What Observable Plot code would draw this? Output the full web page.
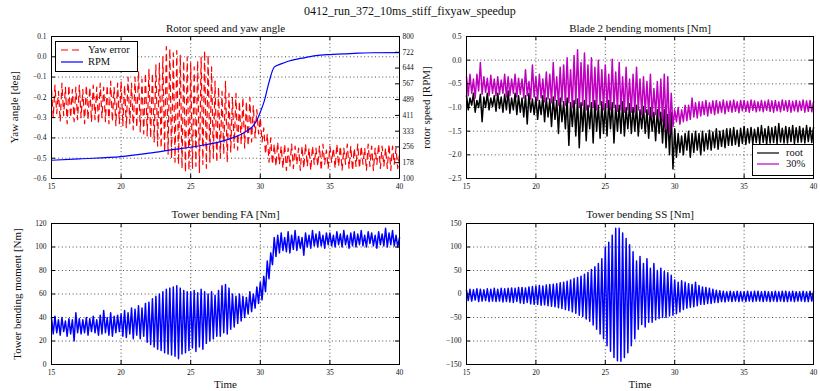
<!DOCTYPE html>
<html><head><meta charset="utf-8">
<script src="https://cdn.jsdelivr.net/npm/d3@7"></script>
<script src="https://cdn.jsdelivr.net/npm/@observablehq/plot@0.6"></script>
<style>
body{margin:0;background:#fff;}
#root{position:relative;width:820px;height:391px;font-family:"Liberation Serif",serif;color:#111;overflow:hidden;}
#root svg{position:absolute;}
.leg{position:absolute;background:#fff;border:1px solid #000;font-size:10.5px;}
.leg div{position:absolute;white-space:nowrap;line-height:10px;}
.leg svg{position:absolute;}
#sup{position:absolute;left:0;top:4px;width:820px;text-align:center;font-size:12px;}
</style></head><body><div id="root"><div id="sup">0412_run_372_10ms_stiff_fixyaw_speedup</div></div>
<script>
const timeStart = 15, timeEnd = 40;
const xTicks = [15, 20, 25, 30, 35, 40];
const yawTicks = [-0.6, -0.5, -0.4, -0.3, -0.2, -0.1, 0, 0.1];
const rpmTicks = [100, 177.8, 255.6, 333.3, 411.1, 488.9, 566.7, 644.4, 722.2, 800];
const bladeTicks = [-2.5, -2, -1.5, -1, -0.5, 0, 0.5];
const faTicks = [0, 20, 40, 60, 80, 100, 120];
const ssTicks = [-150, -100, -50, 0, 50, 100, 150];

// Yaw error [deg], sampled every 0.125 s from 15 to 40
const yawError = [
-0.16,-0.30,-0.14,-0.28,-0.17,-0.32,-0.13,-0.29,
-0.15,-0.33,-0.14,-0.30,-0.16,-0.32,-0.15,-0.31,
-0.14,-0.30,-0.16,-0.33,-0.14,-0.31,-0.15,-0.32,
-0.14,-0.31,-0.15,-0.33,-0.13,-0.30,-0.15,-0.32,
-0.14,-0.33,-0.12,-0.32,-0.15,-0.34,-0.13,-0.33,
-0.12,-0.34,-0.14,-0.35,-0.10,-0.33,-0.13,-0.36,
-0.10,-0.35,-0.07,-0.37,-0.11,-0.38,-0.08,-0.39,
-0.06,-0.40,-0.08,-0.42,-0.04,-0.44,-0.03,-0.45,
0.00,-0.47,0.05,-0.48,0.04,-0.50,0.02,-0.52,
0.03,-0.53,0.01,-0.55,-0.02,-0.57,0.00,-0.56,
-0.03,-0.55,-0.05,-0.54,-0.02,-0.57,0.00,-0.53,
0.03,-0.55,0.01,-0.52,-0.05,-0.50,-0.12,-0.52,
-0.15,-0.50,-0.17,-0.48,-0.12,-0.52,-0.18,-0.47,
-0.20,-0.45,-0.18,-0.46,-0.22,-0.43,-0.20,-0.45,
-0.22,-0.44,-0.20,-0.42,-0.24,-0.40,-0.26,-0.38,
-0.30,-0.42,-0.35,-0.48,-0.38,-0.52,-0.40,-0.53,
-0.43,-0.54,-0.42,-0.53,-0.44,-0.55,-0.43,-0.56,
-0.45,-0.54,-0.43,-0.55,-0.44,-0.53,-0.45,-0.56,
-0.44,-0.55,-0.43,-0.54,-0.45,-0.56,-0.44,-0.53,
-0.45,-0.54,-0.44,-0.56,-0.43,-0.53,-0.46,-0.55,
-0.44,-0.52,-0.45,-0.55,-0.43,-0.54,-0.44,-0.56,
-0.45,-0.53,-0.43,-0.55,-0.44,-0.56,-0.45,-0.54,
-0.43,-0.55,-0.44,-0.53,-0.45,-0.56,-0.43,-0.54,
-0.44,-0.56,-0.45,-0.53,-0.43,-0.55,-0.44,-0.54,
-0.45,-0.55,-0.43,-0.56,-0.44,-0.53,-0.45,-0.55,
-0.48];

// Rotor speed [RPM]
const rpmTime = [15, 17, 20, 22, 24, 25, 26, 27, 28, 29, 29.5, 29.8, 30, 30.3, 30.6, 31, 31.5, 32, 33, 34, 35, 36, 37, 38, 40];
const rpmValue = [190, 197, 208, 225, 245, 254, 266, 279, 300, 333, 361, 395, 427, 485, 568, 649, 665, 678, 693, 706, 711, 714, 718, 720, 721];

// Blade 2 bending moment at root [Nm]
const bladeRoot = [
-0.75,-1.05,-0.80,-0.95,-0.70,-1.10,-0.85,-1.00,
-0.72,-1.30,-0.78,-1.00,-0.70,-1.05,-0.80,-0.98,
-0.75,-1.08,-0.70,-1.02,-0.78,-1.10,-0.72,-1.05,
-0.65,-1.12,-0.80,-1.05,-0.70,-1.15,-0.75,-1.10,
-0.80,-1.20,-0.75,-1.35,-0.70,-1.10,-0.82,-1.15,
-0.78,-1.25,-0.85,-1.15,-0.75,-1.30,-0.80,-1.20,
-0.82,-1.40,-0.78,-1.25,-0.85,-1.55,-0.80,-1.30,
-0.88,-1.45,-0.80,-1.80,-0.90,-1.40,-0.85,-1.60,
-0.82,-1.85,-0.90,-1.50,-0.85,-1.70,-0.95,-1.45,
-0.90,-1.75,-0.85,-1.50,-0.95,-1.65,-0.88,-1.55,
-0.92,-1.60,-0.85,-1.45,-0.90,-1.75,-0.95,-1.50,
-0.95,-1.55,-0.88,-1.60,-1.00,-1.45,-0.92,-1.55,
-1.00,-1.50,-0.95,-1.60,-1.05,-1.45,-0.98,-1.55,
-1.05,-1.65,-1.00,-1.50,-1.10,-1.70,-1.05,-1.55,
-1.10,-1.75,-1.05,-1.85,-1.15,-2.00,-1.10,-2.30,
-1.45,-2.05,-1.55,-1.95,-1.60,-2.00,-1.55,-1.90,
-1.50,-2.05,-1.55,-1.95,-1.50,-1.90,-1.55,-2.00,
-1.50,-1.92,-1.55,-1.88,-1.48,-1.90,-1.52,-1.85,
-1.45,-1.88,-1.50,-1.82,-1.48,-1.85,-1.45,-1.80,
-1.45,-1.80,-1.42,-1.78,-1.48,-1.82,-1.44,-1.76,
-1.40,-1.78,-1.45,-1.75,-1.42,-1.77,-1.46,-1.74,
-1.42,-1.76,-1.38,-1.74,-1.45,-1.77,-1.40,-1.75,
-1.43,-1.74,-1.40,-1.76,-1.34,-1.73,-1.44,-1.75,
-1.40,-1.75,-1.42,-1.72,-1.38,-1.76,-1.43,-1.74,
-1.40,-1.73,-1.44,-1.75,-1.38,-1.72,-1.42,-1.74,
-1.42];

// Blade 2 bending moment at 30% span [Nm]
const blade30 = [
-0.35,-0.75,-0.30,-0.70,-0.40,-0.80,-0.30,-0.65,
-0.05,-0.72,-0.35,-0.68,-0.38,-0.75,-0.32,-0.70,
-0.40,-0.75,-0.35,-0.72,-0.42,-0.70,-0.30,-0.78,
-0.35,-0.75,-0.40,-0.70,-0.30,-0.78,-0.38,-0.72,
-0.40,-0.80,-0.20,-0.75,-0.45,-0.82,-0.10,-0.78,
-0.35,-0.85,-0.30,-0.80,-0.40,-0.88,-0.25,-0.82,
-0.30,-0.90,-0.05,-0.85,-0.35,-0.95,-0.15,-0.88,
-0.10,-0.95,0.05,-0.90,-0.20,-1.00,0.10,-0.92,
0.22,-1.00,-0.05,-0.95,0.15,-1.05,-0.10,-0.98,
0.05,-1.00,-0.15,-1.05,0.00,-0.95,-0.20,-1.05,
-0.10,-1.00,-0.30,-1.05,0.02,-1.00,-0.25,-1.08,
-0.05,-1.05,-0.35,-1.10,-0.15,-1.05,-0.40,-1.10,
-0.30,-1.10,-0.15,-1.05,-0.40,-1.15,-0.35,-1.10,
-0.45,-1.15,-0.30,-1.20,-0.60,-1.15,-0.45,-1.20,
-0.40,-1.30,-0.30,-1.45,-0.35,-1.55,-0.70,-1.40,
-1.05,-1.30,-1.00,-1.35,-1.05,-1.30,-0.95,-1.28,
-0.95,-1.25,-0.80,-1.20,-0.90,-1.22,-0.88,-1.18,
-0.88,-1.15,-0.85,-1.18,-0.90,-1.12,-0.86,-1.15,
-0.85,-1.12,-0.88,-1.10,-0.84,-1.13,-0.87,-1.08,
-0.86,-1.10,-0.84,-1.08,-0.88,-1.11,-0.85,-1.07,
-0.85,-1.08,-0.87,-1.10,-0.84,-1.06,-0.86,-1.09,
-0.88,-1.07,-0.85,-1.09,-0.87,-1.06,-0.84,-1.08,
-0.86,-1.10,-0.85,-1.07,-0.88,-1.09,-0.84,-1.06,
-0.86,-1.08,-0.85,-1.10,-0.87,-1.07,-0.85,-1.09,
-0.87,-1.06,-0.84,-1.10,-0.86,-1.08,-0.85,-1.09,
-0.88];

// Tower bending fore-aft [Nm]
const towerFA = [
40,26,41,27,38,25,40,28,
37,24,39,26,38,20,44,27,
39,26,38,27,40,25,39,28,
41,27,38,25,42,26,46,27,
40,25,44,24,41,27,42,28,
43,24,46,23,44,26,48,22,
47,25,50,22,48,24,52,19,
53,17,56,15,58,13,60,12,
62,10,64,9,65,8,66,7,
67,5,65,9,63,10,62,12,
62,14,63,11,61,15,64,13,
62,18,60,20,62,22,59,24,
63,24,67,27,68,26,65,30,
60,32,58,35,60,37,58,40,
57,43,62,45,60,48,66,52,
70,55,75,62,88,73,95,85,
108,92,110,95,112,97,108,96,
113,95,110,98,114,97,109,99,
108,93,112,100,110,99,114,101,
111,100,113,101,110,99,112,102,
112,101,110,100,113,102,111,100,
114,102,110,99,112,101,113,100,
111,102,114,101,110,100,113,103,
112,101,110,99,113,102,111,101,
116,100,112,102,114,101,110,100,
108];

// Tower bending side-side [Nm]
const towerSS = [
8,-14,10,-15,9,-13,11,-16,
10,-15,9,-14,11,-16,10,-15,
12,-16,10,-15,12,-17,11,-16,
12,-17,13,-18,12,-16,14,-19,
14,-20,13,-18,15,-21,16,-22,
17,-22,18,-24,17,-23,19,-25,
20,-26,21,-27,22,-29,24,-31,
25,-33,27,-35,30,-38,33,-41,
35,-45,38,-48,42,-53,46,-58,
52,-66,58,-75,65,-85,75,-95,
100,-110,110,-122,125,-135,140,-142,
140,-143,130,-135,118,-125,105,-110,
90,-95,70,-75,80,-65,65,-70,
75,-60,55,-60,65,-55,50,-52,
55,-50,48,-50,45,-47,40,-45,
30,-42,25,-38,28,-33,25,-30,
22,-28,20,-27,25,-25,18,-22,
15,-22,14,-20,12,-20,10,-18,
8,-18,7,-16,6,-17,5,-15,
6,-16,5,-15,6,-16,5,-15,
5,-16,6,-15,5,-16,6,-15,
6,-15,5,-16,6,-15,5,-16,
5,-15,6,-16,5,-15,6,-16,
6,-16,5,-15,6,-16,5,-15,
5,-15,6,-16,5,-16,6,-15,
5];

const rows = (values) => values.map((v, i) => ({t: timeStart + i * (timeEnd - timeStart) / (values.length - 1), v}));
const rpmRows = rpmTime.map((t, i) => ({t, v: rpmValue[i]}));

const FONT = '"Liberation Serif", serif';
const TICK_FS = 7.5, LABEL_FS = 11;
const dotted = {stroke: "#000", strokeOpacity: 1, strokeWidth: 0.7, strokeDasharray: "1,2.6"};

function panel(o) {
  const w = 410, h = o.h;
  const fw = w - o.ml - o.mr, fh = h - o.mt - o.mb;
  const marks = [];
  if (!o.overlay) {
    marks.push(Plot.gridX(xTicks, dotted), Plot.gridY(o.yTicks, dotted));
  }
  marks.push(...o.marks);
  if (!o.overlay) {
    marks.push(
      Plot.tickX(xTicks, {x: d => d, insetTop: fh - 4, stroke: "#000"}),
      Plot.tickX(xTicks, {x: d => d, insetBottom: fh - 4, stroke: "#000"}),
      Plot.tickY(o.yTicks, {y: d => d, insetRight: fw - 4, stroke: "#000"})
    );
    if (!o.noRightTicks) marks.push(Plot.tickY(o.yTicks, {y: d => d, insetLeft: fw - 4, stroke: "#000"}));
    marks.push(
      Plot.frame({stroke: "#000"}),
      Plot.axisX(xTicks, {tickSize: 0, tickPadding: 5, label: null, fontSize: TICK_FS}),
      Plot.axisY(o.yTicks, {tickSize: 0, tickPadding: 5, tickFormat: o.yFmt, label: null, fontSize: TICK_FS})
    );
    if (o.title) marks.push(Plot.text([o.title], {text: d => d, frameAnchor: "top", lineAnchor: "middle", textAnchor: "middle", dy: o.titleDy, fontSize: LABEL_FS}));
    if (o.ylabel) marks.push(Plot.text([o.ylabel], {text: d => d, frameAnchor: "left", lineAnchor: "middle", textAnchor: "middle", dx: o.ylabelDx, rotate: -90, fontSize: LABEL_FS}));
    if (o.xlabel) marks.push(Plot.text([o.xlabel], {text: d => d, frameAnchor: "bottom", lineAnchor: "middle", textAnchor: "middle", dy: 20, fontSize: LABEL_FS}));
  } else {
    marks.push(
      Plot.tickY(o.yTicks, {y: d => d, insetLeft: fw - 4, stroke: "#000"}),
      Plot.axisY(o.yTicks, {anchor: "right", tickSize: 0, tickPadding: 3, tickFormat: o.yFmt, label: null, fontSize: TICK_FS}),
      Plot.text([o.ylabel], {text: d => d, frameAnchor: "right", lineAnchor: "middle", textAnchor: "middle", dx: o.ylabelDx, rotate: -90, fontSize: LABEL_FS})
    );
  }
  const svg = Plot.plot({
    width: w, height: h,
    marginLeft: o.ml, marginRight: o.mr, marginTop: o.mt, marginBottom: o.mb,
    style: {fontFamily: FONT, fontSize: "8px", background: "transparent", color: "#111", overflow: "visible"},
    x: {domain: [timeStart, timeEnd], axis: o.overlay ? null : undefined},
    y: {domain: o.yDomain},
    marks
  });
  svg.style.left = o.left + "px";
  svg.style.top = o.top + "px";
  return svg;
}

const root = document.getElementById("root");
const f1 = d3.format(".1f"), fi = d3.format("d"), f0 = d3.format(".0f");

root.appendChild(panel({
  left: 0, top: 0, h: 195, ml: 51, mr: 11, mt: 36, mb: 17,
  yDomain: [-0.6, 0.1], yTicks: yawTicks, yFmt: f1, noRightTicks: true,
  title: "Rotor speed and yaw angle", titleDy: -8, ylabel: "Yaw angle [deg]", ylabelDx: -37,
  marks: [Plot.line(rows(yawError), {x: "t", y: "v", stroke: "#ff0000", strokeWidth: 1.2, strokeDasharray: "6,5"})]
}));
root.appendChild(panel({
  left: 0, top: 0, h: 195, ml: 51, mr: 11, mt: 36, mb: 17, overlay: true,
  yDomain: [100, 800], yTicks: rpmTicks, yFmt: f0,
  ylabel: "rotor speed [RPM]", ylabelDx: 27,
  marks: [Plot.line(rpmRows, {x: "t", y: "v", stroke: "#0000ff", strokeWidth: 1.2, curve: "monotone-x"})]
}));
root.appendChild(panel({
  left: 410, top: 0, h: 195, ml: 56, mr: 7, mt: 36, mb: 17,
  yDomain: [-2.5, 0.5], yTicks: bladeTicks, yFmt: f1,
  title: "Blade 2 bending moments [Nm]", titleDy: -8,
  marks: [
    Plot.line(rows(bladeRoot), {x: "t", y: "v", stroke: "#000", strokeWidth: 1.5}),
    Plot.line(rows(blade30), {x: "t", y: "v", stroke: "#bf00bf", strokeWidth: 1.5})
  ]
}));
root.appendChild(panel({
  left: 0, top: 195, h: 196, ml: 51, mr: 11, mt: 28, mb: 27,
  yDomain: [0, 120], yTicks: faTicks, yFmt: fi,
  title: "Tower bending FA [Nm]", titleDy: -9, ylabel: "Tower bending moment [Nm]", ylabelDx: -34, xlabel: "Time",
  marks: [Plot.line(rows(towerFA), {x: "t", y: "v", stroke: "#0000ff", strokeWidth: 1.5})]
}));
root.appendChild(panel({
  left: 410, top: 195, h: 196, ml: 56, mr: 7, mt: 28, mb: 27,
  yDomain: [-150, 150], yTicks: ssTicks, yFmt: fi,
  title: "Tower bending SS [Nm]", titleDy: -9, xlabel: "Time",
  marks: [Plot.line(rows(towerSS), {x: "t", y: "v", stroke: "#0000ff", strokeWidth: 1.5})]
}));

function legend(box, entries) {
  const d = document.createElement("div");
  d.className = "leg";
  Object.assign(d.style, {left: box.x + "px", top: box.y + "px", width: box.w + "px", height: box.h + "px"});
  entries.forEach((e, i) => {
    const y = box.row0 + i * box.gap;
    const s = document.createElementNS("http://www.w3.org/2000/svg", "svg");
    s.setAttribute("width", box.lineW); s.setAttribute("height", 4);
    s.style.left = box.lineX + "px"; s.style.top = (y - 2) + "px";
    const l = document.createElementNS("http://www.w3.org/2000/svg", "line");
    l.setAttribute("x1", 0); l.setAttribute("x2", box.lineW); l.setAttribute("y1", 2); l.setAttribute("y2", 2);
    l.setAttribute("stroke", e.color); l.setAttribute("stroke-width", 1.2);
    if (e.dash) l.setAttribute("stroke-dasharray", e.dash);
    s.appendChild(l); d.appendChild(s);
    const t = document.createElement("div");
    t.textContent = e.label;
    t.style.left = box.textX + "px"; t.style.top = (y - 5) + "px";
    d.appendChild(t);
  });
  root.appendChild(d);
}
legend({x: 55, y: 41, w: 81, h: 29, row0: 8, gap: 11.5, lineX: 5, lineW: 22, textX: 32},
  [{label: "Yaw error", color: "#ff0000", dash: "7,4"}, {label: "RPM", color: "#0000ff"}]);
legend({x: 752, y: 144, w: 60, h: 30, row0: 8, gap: 11, lineX: 4, lineW: 22, textX: 33},
  [{label: "root", color: "#000"}, {label: "30%", color: "#bf00bf"}]);
</script></body></html>
